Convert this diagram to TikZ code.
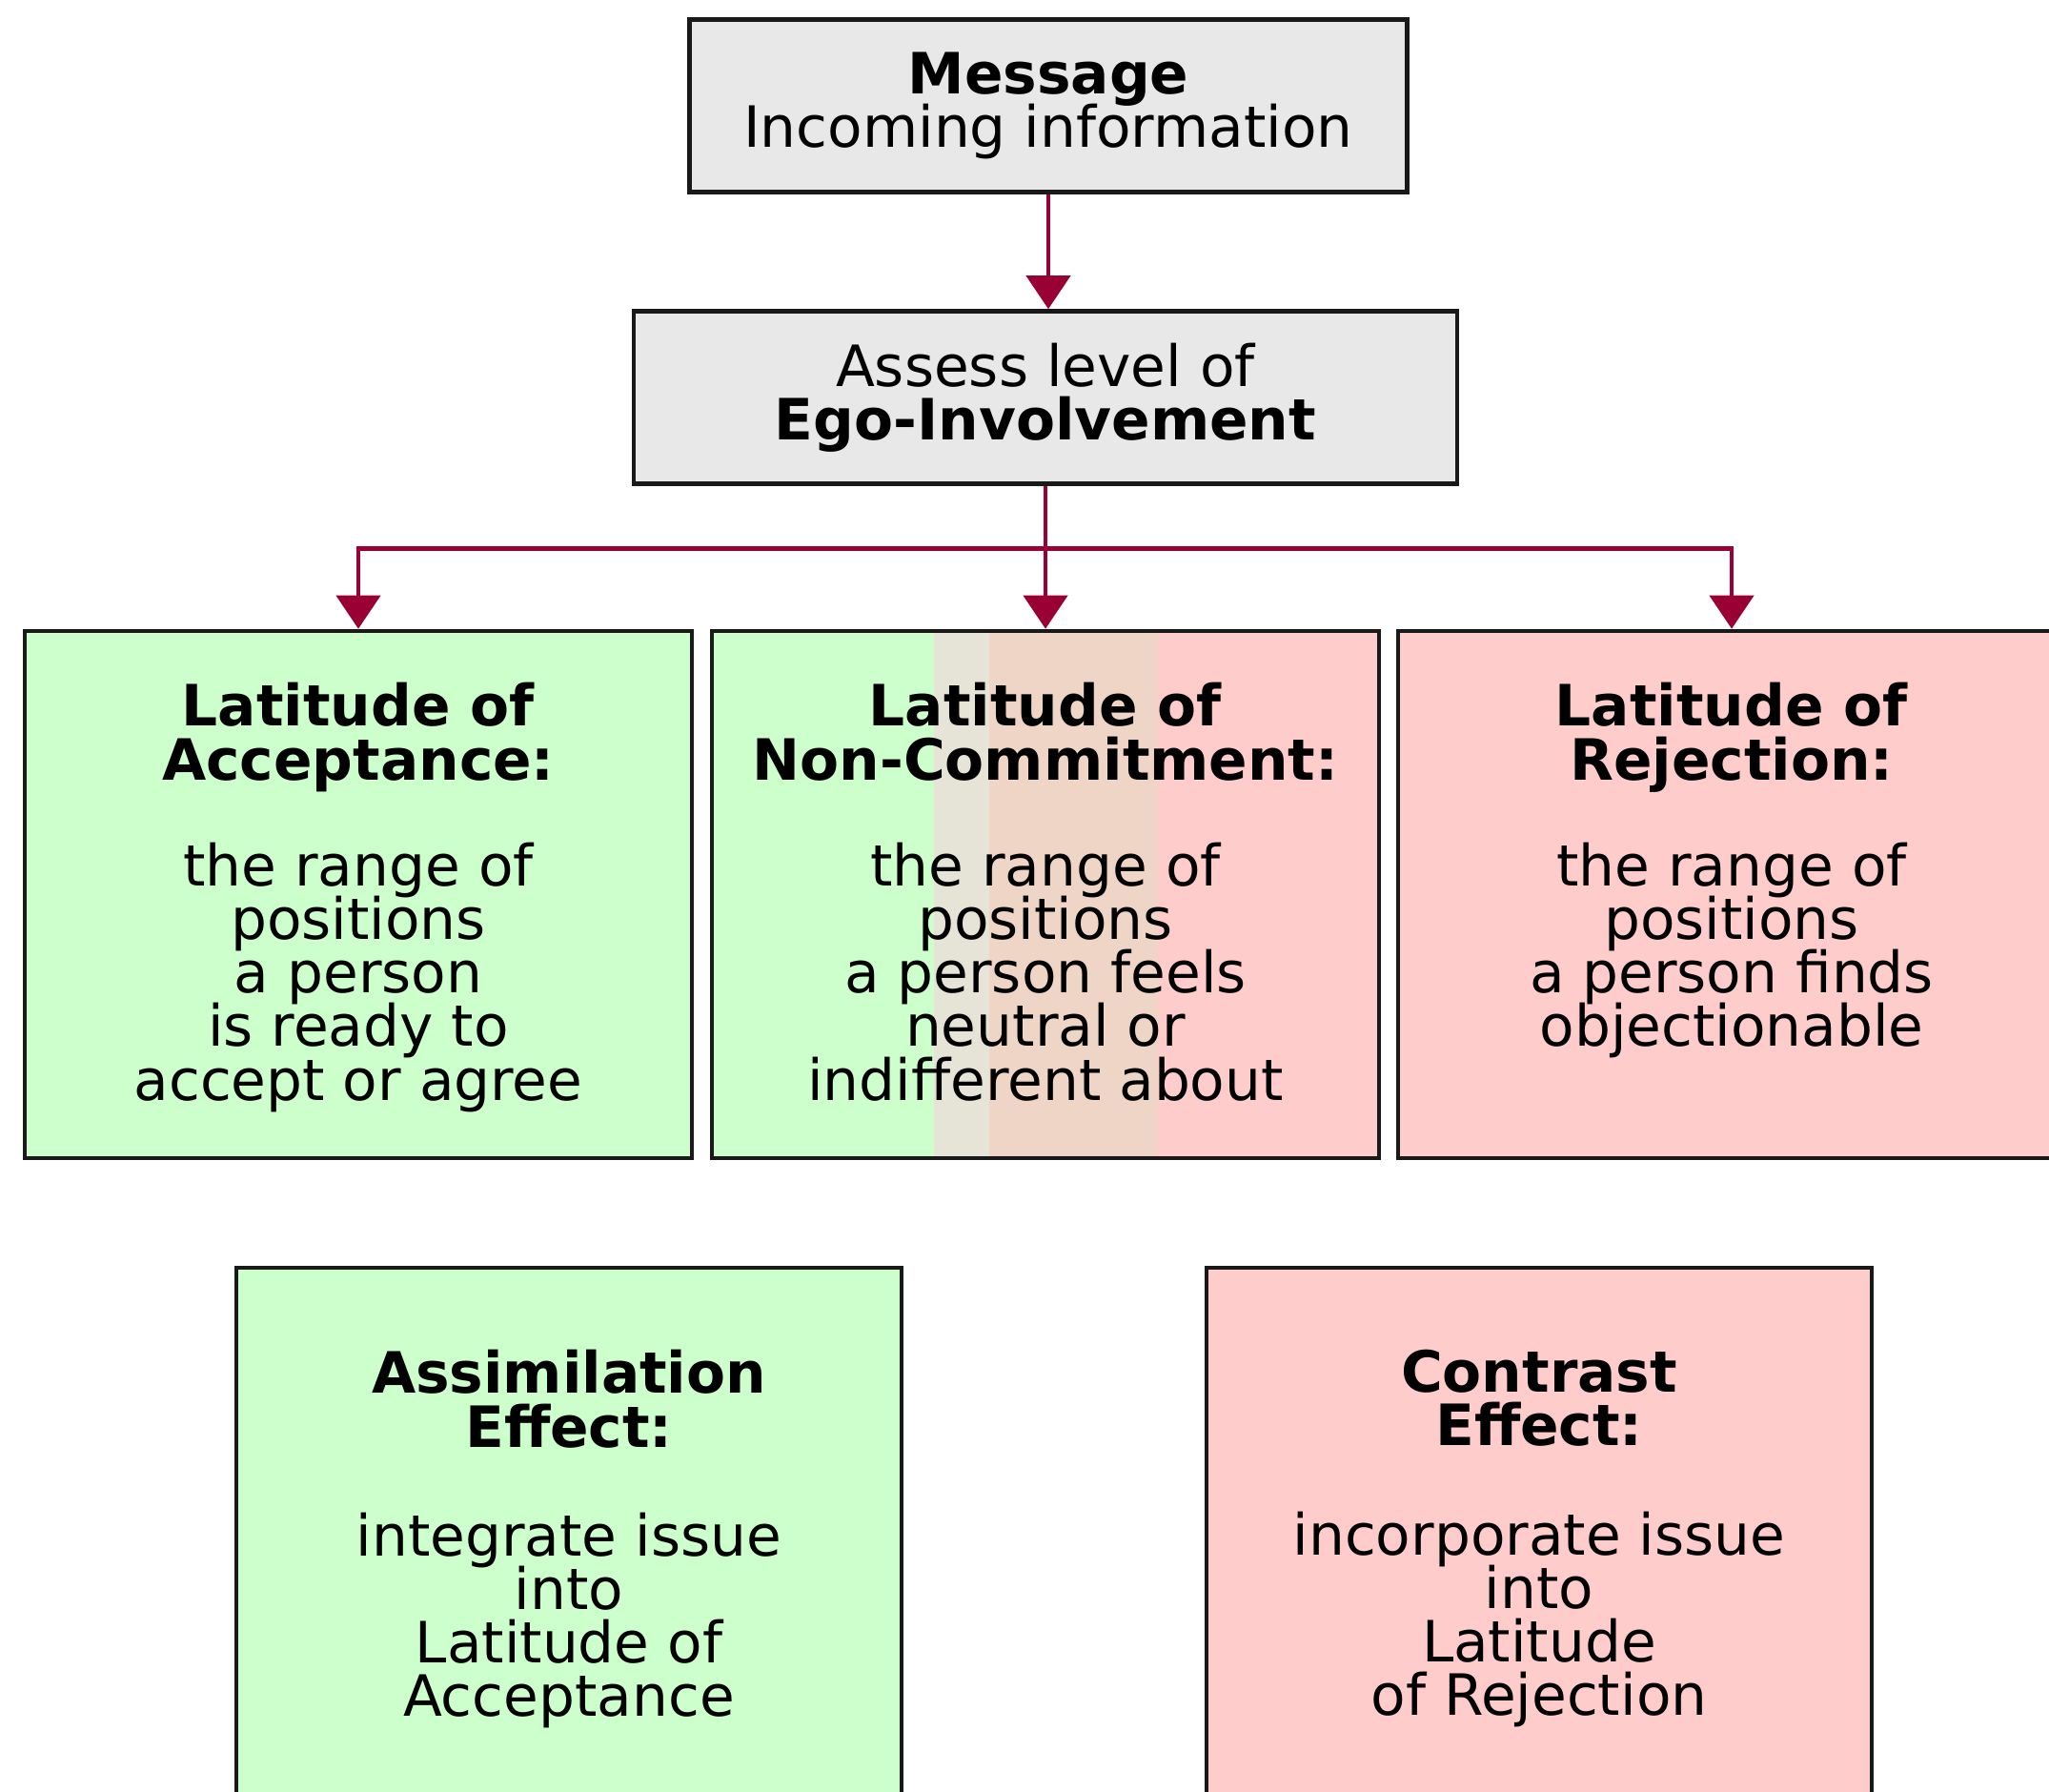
\documentclass[tikz,border=0pt]{standalone}
\usepackage{fontspec}
\setmainfont{DejaVu Sans}
\usepackage{xcolor}
\usetikzlibrary{arrows.meta}
\definecolor{linkred}{HTML}{990033}
\definecolor{boxgrey}{HTML}{E8E8E8}
\definecolor{accgreen}{HTML}{CCFFCC}
\definecolor{rejpink}{HTML}{FFCCCC}
\definecolor{midtanA}{HTML}{E6E4D6}
\definecolor{midtanB}{HTML}{EED5C6}
\newcommand\boxfont{\fontsize{17}{16}\selectfont\lineskiplimit-10pt\relax}

\begin{document}
\begin{tikzpicture}[x=1cm,y=1cm,font=\boxfont,
 box/.style={draw=black!90,line width=1.3pt,inner sep=0pt},
 topbox/.style={box,fill=boxgrey,minimum width=#1,minimum height=1.81cm,align=center},
 latbox/.style={box,minimum width=7cm,minimum height=5.53cm},
 effbox/.style={box,minimum width=6.98cm,minimum height=7cm},
 txt/.style={anchor=north,align=center,inner sep=0pt},
 link/.style={draw=linkred,line width=1.3pt,-{Triangle[width=4.6mm,length=3.5mm]}}]
 \useasboundingbox (0,0) rectangle (21.5,18.8);
 \clip (0,0) rectangle (21.5,18.8);
 % top of the flow
 \node[topbox=7.53cm] (msg) at (11.0,17.69) {\textbf{Message}\\Incoming information};
 \node[topbox=8.64cm] (ego) at (10.97,14.63) {Assess level of\\\textbf{Ego-Involvement}};
 % the three latitudes
 \node[latbox,fill=accgreen] (acc) at (3.76,9.415) {};
 \node[latbox,path picture={
   \foreach \col/\a/\b in {accgreen/0/2.33,midtanA/2.33/2.91,midtanB/2.91/4.68,rejpink/4.68/7}
     \fill[\col] ([xshift=\a cm]path picture bounding box.south west)
       rectangle ([xshift=\b cm]path picture bounding box.north west);}] (non) at (10.97,9.415) {};
 \node[latbox,fill=rejpink] (rej) at (18.17,9.415) {};
 \node[txt] (lacc) at ([yshift=-5.6mm]acc.north) {\textbf{Latitude of}\\\textbf{Acceptance:}\\[5.5mm]
   the range of\\positions\\a person\\is ready to\\accept or agree};
 \node[txt] (lnon) at ([yshift=-5.6mm]non.north) {\textbf{Latitude of}\\\textbf{Non-Commitment:}\\[5.5mm]
   the range of\\positions\\a person feels\\neutral or\\indifferent about};
 \node[txt] (lrej) at ([yshift=-5.6mm]rej.north) {\textbf{Latitude of}\\\textbf{Rejection:}\\[5.5mm]
   the range of\\positions\\a person finds\\objectionable};
 % effects
 \node[effbox,fill=accgreen] (assim) at (5.97,2.0) {};
 \node[effbox,fill=rejpink] (contr) at (16.15,2.0) {};
 \node[txt] (tassim) at ([yshift=-8.8mm]assim.north) {\textbf{Assimilation}\\\textbf{Effect:}\\[5.8mm]
   integrate issue\\into\\Latitude of\\Acceptance};
 \node[txt] (tcontr) at ([yshift=-8.8mm]contr.north) {\textbf{Contrast}\\\textbf{Effect:}\\[5.8mm]
   incorporate issue\\into\\Latitude\\of Rejection};
 % connectors
 \draw[link] (msg.south) -- (msg.south |- ego.north);
 \coordinate (fork) at ([yshift=-6.6mm]ego.south);
 \draw[link] (ego.south) -- (non.north);
 \draw[link] (fork) -| (acc.north);
 \draw[link] (fork) -| (rej.north);
\end{tikzpicture}
\end{document}
